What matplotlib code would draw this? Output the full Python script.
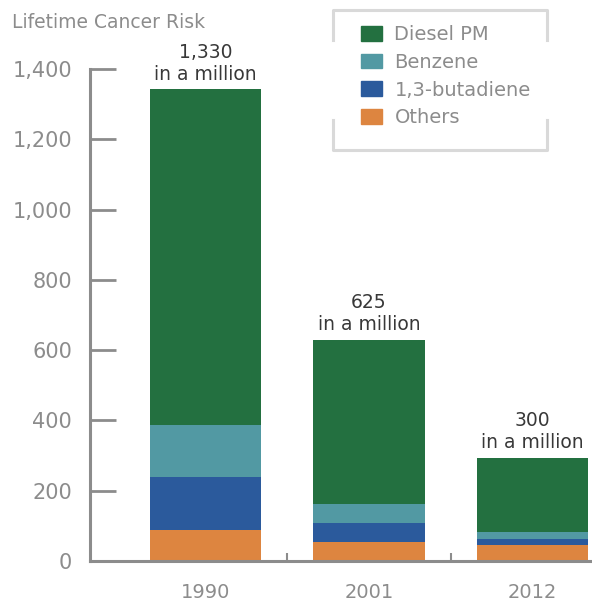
import numpy as np
import matplotlib
matplotlib.use("Agg")
import matplotlib.pyplot as plt
import matplotlib.patches as mpatches
from matplotlib.lines import Line2D

years = ["1990", "2001", "2012"]
totals = ["1,330", "625", "300"]
others = [88, 54, 45]
butadiene = [151, 54, 17]
benzene = [148, 54, 20]
diesel = [955, 467, 211]

series = [("Others", others, "#dd8540"),
          ("1,3-butadiene", butadiene, "#2b5a9c"),
          ("Benzene", benzene, "#5299a3"),
          ("Diesel PM", diesel, "#237040")]

gray = "#8c8c8c"
W, H = 592, 603
plt.rcParams['font.family'] = ['DejaVu Sans']

fig = plt.figure(figsize=(W / 100, H / 100), dpi=100)
ax = fig.add_axes([90 / W, 42 / H, 500 / W, 492 / H])

x = np.arange(len(years))
bottom = np.zeros(len(years))
for name, vals, col in series:
    ax.bar(x, vals, 0.68, bottom=bottom, color=col, label=name)
    bottom += np.array(vals)

for xi, top, lab in zip(x, bottom, totals):
    ax.annotate(lab + "\nin a million", (xi, top), xytext=(0, 4), textcoords="offset points",
                ha="center", va="bottom", fontsize=13.5, color="#383838", annotation_clip=False)

ax.set_xlim(-0.706, 2.352)
ax.set_ylim(0, 1400)
ax.set_yticks(range(0, 1401, 200))
ax.set_yticklabels([f"{v:,}" for v in range(0, 1401, 200)])
ax.set_xticks(x)
ax.set_xticklabels(years)
ax.set_xticks([0.5, 1.5], minor=True)

ax.tick_params(axis="y", direction="in", length=19, width=2, color=gray, pad=13,
               labelsize=15, labelcolor=gray)
ax.tick_params(axis="x", which="major", length=0, pad=16, labelsize=14, labelcolor=gray)
ax.tick_params(axis="x", which="minor", direction="in", length=6, width=1.5, color=gray)

for s in ["top", "right"]:
    ax.spines[s].set_visible(False)
for s in ["left", "bottom"]:
    ax.spines[s].set_color(gray)
    ax.spines[s].set_linewidth(2.2)

fig.text(12 / W, 1 - 22 / H, "Lifetime Cancer Risk", fontsize=13.5, color=gray, va="center", ha="left")

# legend
handles = [mpatches.Patch(color=c, label=n) for n, v, c in series[::-1]]
fig.legend(handles=handles, loc="upper left", bbox_to_anchor=(361 / W, 1 - 25 / H),
           frameon=False, fontsize=14, labelcolor=gray, handlelength=1.1,
           handleheight=0.8, labelspacing=0.45, handletextpad=0.62, borderpad=0,
           borderaxespad=0)

def px(xp, yp):
    return [v / W for v in xp], [1 - v / H for v in yp]

fc = "#d9d9d9"
frame = [([333, 333, 547, 547], [40, 10, 10, 40]),
         ([333, 333, 547, 547], [120, 150, 150, 120])]
for xs, ys in frame:
    fx, fy = px(xs, ys)
    fig.add_artist(Line2D(fx, fy, color=fc, lw=2.2, transform=fig.transFigure))

fig.savefig("out.png", dpi=100)
